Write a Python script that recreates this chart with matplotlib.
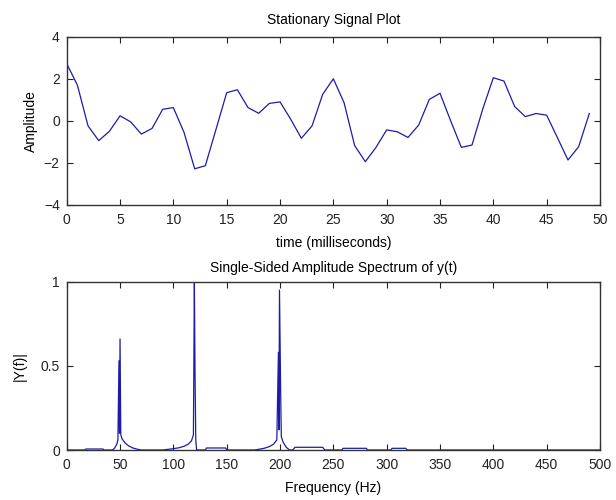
import matplotlib
matplotlib.use("Agg")
import matplotlib.pyplot as plt

# time-domain samples (ms)
time_ms = [0, 1, 2, 3, 4, 5, 6, 7, 8, 9,
           10, 11, 12, 13, 14, 15, 16, 17, 18, 19,
           20, 21, 22, 23, 24, 25, 26, 27, 28, 29,
           30, 31, 32, 33, 34, 35, 36, 37, 38, 39,
           40, 41, 42, 43, 44, 45, 46, 47, 48, 49]
amplitude = [2.72, 1.70, -0.24, -0.94, -0.50, 0.24, -0.05, -0.63, -0.36, 0.55,
             0.63, -0.55, -2.28, -2.13, -0.40, 1.34, 1.48, 0.63, 0.36, 0.83,
             0.90, 0.08, -0.83, -0.24, 1.26, 2.00, 0.87, -1.18, -1.94, -1.26,
             -0.43, -0.52, -0.79, -0.20, 1.02, 1.31, 0.00, -1.26, -1.15, 0.55,
             2.05, 1.89, 0.68, 0.20, 0.35, 0.27, -0.79, -1.86, -1.23, 0.35]

# single-sided spectrum, key points
freq_hz = [0, 17, 18, 34, 35, 43, 45, 47, 48, 49, 49.5, 50, 50.7, 52, 55, 58, 62, 66, 70,
           90, 95, 100, 105, 110, 114, 117, 118.8, 119.7, 120.3, 121, 121.8, 128,
           130, 131, 149, 150, 176, 180, 185, 190, 194, 197, 198.5, 199, 199.5,
           200.5, 201.2, 203, 206, 209, 212, 214, 240, 242, 258, 259, 281, 282,
           304, 305, 318, 319, 500]
spectrum = [0, 0, 0.006, 0.006, 0, 0, 0.012, 0.035, 0.06, 0.53, 0.1, 0.66, 0.09, 0.065, 0.04, 0.025, 0.012, 0.005, 0,
            0, 0.004, 0.008, 0.013, 0.022, 0.035, 0.055, 0.09, 1.0, 0.47, 0.06, 0, 0,
            0, 0.012, 0.012, 0, 0, 0.004, 0.01, 0.02, 0.035, 0.06, 0.58, 0.12, 0.95,
            0.39, 0.08, 0.045, 0.015, 0, 0, 0.016, 0.016, 0, 0, 0.01, 0.01, 0,
            0, 0.01, 0.01, 0, 0]

line_color = "#1c1ca8"
plt.rcParams["font.family"] = ["Liberation Sans", "DejaVu Sans"]
plt.rcParams["font.size"] = 10

fig = plt.figure(figsize=(6.16, 5.0), dpi=100)
ax1 = fig.add_axes([0.1083, 0.590, 0.8657, 0.3366])
ax2 = fig.add_axes([0.1083, 0.100, 0.8657, 0.3366])

ax1.plot(time_ms, amplitude, color=line_color, lw=0.9)
ax1.set_xlim(0, 50)
ax1.set_ylim(-4, 4)
ax1.set_xticks(range(0, 51, 5))
ax1.set_yticks([-4, -2, 0, 2, 4])
ax1.set_title("Stationary Signal Plot", fontsize=10, pad=9)
ax1.set_xlabel("time (milliseconds)", labelpad=6)
ax1.set_ylabel("Amplitude", labelpad=4)

ax2.plot(freq_hz, spectrum, color=line_color, lw=0.9)
ax2.set_xlim(0, 500)
ax2.set_ylim(0, 1)
ax2.set_xticks(range(0, 501, 50))
ax2.set_yticks([0, 0.5, 1])
ax2.set_yticklabels(["0", "0.5", "1"])
ax2.set_title("Single-Sided Amplitude Spectrum of y(t)", fontsize=10, pad=7)
ax2.set_xlabel("Frequency (Hz)", labelpad=6)
ax2.set_ylabel("|Y(f)|", labelpad=10)

for ax in (ax1, ax2):
    ax.tick_params(direction="in", top=True, right=True, length=4, width=0.8,
                   labelsize=10, colors="#222222")
    ax.tick_params(axis="x", pad=6)
    ax.tick_params(axis="y", pad=5)
    for sp in ax.spines.values():
        sp.set_linewidth(1.0)
        sp.set_color("#333333")

fig.savefig("out.png", dpi=100)
